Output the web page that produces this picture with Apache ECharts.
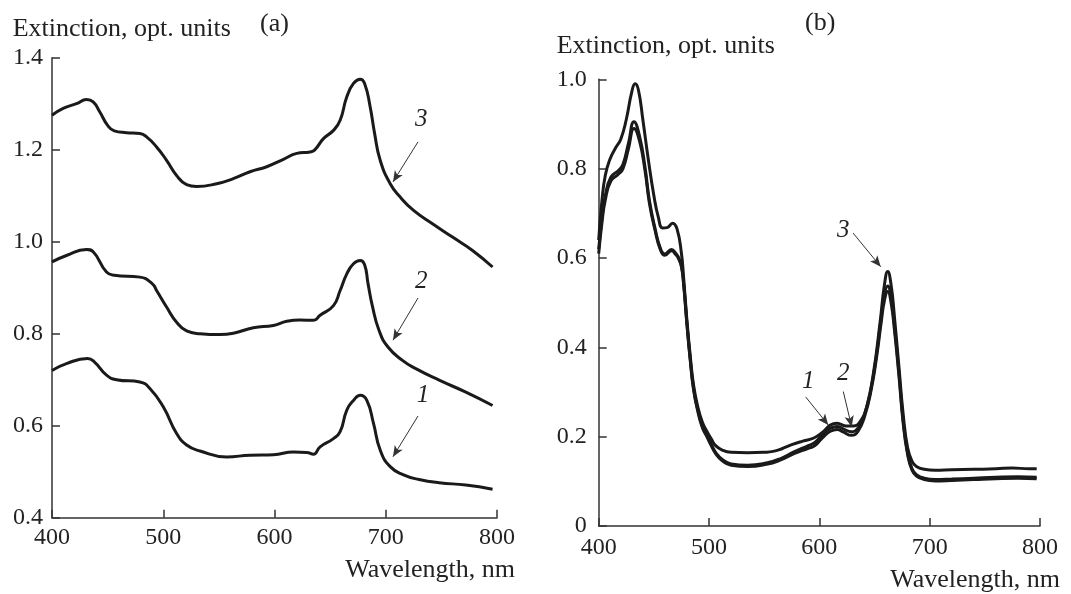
<!DOCTYPE html>
<html><head><meta charset="utf-8">
<script src="https://cdn.jsdelivr.net/npm/echarts@6/dist/echarts.min.js"></script>
<style>html,body{margin:0;padding:0;background:#fff}#c{width:1071px;height:594px}</style>
</head><body><div id="c"></div>
<script>
// ---- Panel (a) ----
const a3X = [400,410,422,431,437,443,450,456,467,479,485,494,503,512,521,530,548,563,578,593,608,620,632,636,644,653,659,665,671,677,681,686,690,695,704,713,725,742,760,778,796];
const a3Y = [1.275,1.29,1.3,1.309,1.304,1.282,1.253,1.241,1.237,1.235,1.228,1.206,1.177,1.144,1.124,1.12,1.126,1.137,1.152,1.163,1.179,1.192,1.195,1.199,1.224,1.242,1.264,1.315,1.344,1.353,1.344,1.293,1.235,1.177,1.126,1.097,1.068,1.039,1.01,0.981,0.945];
const a2X = [400,413,431,437,449,456,479,490,494,503,512,521,533,551,563,581,599,611,623,635,641,653,659,665,671,677,681,684,688,694,702,715,727,748,772,796];
const a2Y = [0.956,0.97,0.983,0.978,0.934,0.927,0.923,0.909,0.894,0.858,0.825,0.806,0.8,0.798,0.801,0.813,0.818,0.827,0.83,0.829,0.84,0.861,0.894,0.93,0.952,0.959,0.95,0.91,0.86,0.807,0.771,0.742,0.724,0.699,0.673,0.644];
const a1X = [400,413,432,438,449,458,479,488,500,512,521,533,557,578,599,617,629,635,641,653,659,665,671,677,683,689,695,704,716,730,748,772,796];
const a1Y = [0.72,0.735,0.746,0.739,0.71,0.7,0.695,0.681,0.641,0.583,0.558,0.545,0.532,0.536,0.537,0.543,0.542,0.538,0.554,0.572,0.587,0.634,0.655,0.666,0.655,0.605,0.547,0.511,0.493,0.483,0.476,0.471,0.462];
const aTicksY = [0.4,0.6,0.8,1.0,1.2,1.4];
const aNotes = ['3','2','1'];
const aNoteX = [732,732,733.5];
const aNoteY = [1.265,0.913,0.665];
const aArrowFrom = [[729,1.217],[729,0.8776],[729,0.621]];
const aArrowTo = [[706.5,1.13],[706.5,0.786],[706.5,0.5326]];

// ---- Panel (b) ----
const b3X = [400,403,406,410,415,420,425,430,433,436,440,445,450,454,458,462,467,471,475,477,480,483,486,490,494,498,502,506,512,520,535,550,558,566,575,585,595,603,610,616,624,631,637,643,649,655,659,662,665,668,672,676,680,684,688,695,705,720,740,760,775,790,797];
const b3Y = [0.64,0.73,0.785,0.82,0.845,0.866,0.91,0.972,0.99,0.976,0.91,0.82,0.74,0.692,0.667,0.668,0.678,0.665,0.61,0.555,0.46,0.38,0.315,0.265,0.232,0.212,0.195,0.18,0.17,0.165,0.164,0.165,0.167,0.173,0.182,0.19,0.197,0.21,0.226,0.23,0.224,0.224,0.234,0.268,0.342,0.455,0.54,0.57,0.54,0.47,0.36,0.25,0.175,0.145,0.133,0.127,0.125,0.126,0.127,0.128,0.13,0.128,0.128];
const b12X = [400,403,406,411,418,422,427,432,437,442,446,451,456,460,466,470,472,475,477,480,483,486,490,494,498,502,506,512,520,535,552,565,577,590,596,603,610,616,622,629,635,641,647,652,656,659,662,665,668,672,676,680,684,688,695,705,720,740,760,780,797];
const b1Y = [0.61,0.68,0.73,0.772,0.788,0.8,0.845,0.89,0.862,0.795,0.722,0.663,0.618,0.606,0.616,0.607,0.6,0.58,0.54,0.45,0.37,0.305,0.255,0.22,0.2,0.18,0.162,0.146,0.136,0.133,0.138,0.148,0.162,0.174,0.18,0.198,0.212,0.216,0.21,0.203,0.212,0.245,0.305,0.38,0.455,0.505,0.525,0.5,0.44,0.34,0.23,0.16,0.125,0.112,0.104,0.101,0.102,0.104,0.106,0.107,0.106];
const b2Y = [0.62,0.69,0.74,0.781,0.796,0.81,0.857,0.905,0.873,0.803,0.728,0.667,0.621,0.609,0.619,0.61,0.603,0.583,0.543,0.453,0.373,0.308,0.258,0.223,0.203,0.183,0.165,0.149,0.139,0.136,0.141,0.151,0.166,0.18,0.187,0.205,0.219,0.223,0.217,0.211,0.219,0.25,0.31,0.387,0.465,0.518,0.537,0.512,0.45,0.348,0.236,0.164,0.128,0.115,0.107,0.104,0.105,0.107,0.109,0.11,0.109];
const bTicksY = [0,0.2,0.4,0.6,0.8,1.0];
const bNotes = ['3','1','2'];
const bNoteX = [621.7,590,621.7];
const bNoteY = [0.6626,0.323,0.342];
const bArrowFrom = [[630.5,0.656],[587.6,0.289],[621.7,0.301]];
const bArrowTo = [[655.6,0.5805],[608.1,0.226],[629.3,0.222]];

const xTicks = [400,500,600,700,800];

const FONT = 'Liberation Serif';
const INK = '#1a1a1a';
const TITLE_FONT = '26px "Liberation Serif"';
const zip = (xs, ys) => xs.map((x, i) => [x, ys[i]]);

function xAxis(gi) {
  return {
    gridIndex: gi, type: 'value', min: xTicks[0], max: xTicks[xTicks.length - 1], interval: 100,
    axisLine: { show: true, lineStyle: { color: '#333', width: 1.5 } },
    axisTick: { show: true, inside: true, length: 8, lineStyle: { color: '#333', width: 1.5 } },
    axisLabel: { fontFamily: FONT, fontSize: 24, color: '#222', margin: gi === 0 ? 8 : 10 },
    splitLine: { show: false }
  };
}
function yAxis(gi, ticks) {
  return {
    gridIndex: gi, type: 'value', min: ticks[0], max: ticks[ticks.length - 1], interval: 0.2,
    axisLine: { show: true, lineStyle: { color: '#333', width: 1.5 } },
    axisTick: { show: true, inside: true, length: 8, lineStyle: { color: '#333', width: 1.5 } },
    axisLabel: { fontFamily: FONT, fontSize: 24, color: '#222', margin: gi === 0 ? 9 : 12,
      formatter: v => (Math.abs(v) < 1e-9 ? '0' : v.toFixed(1)) },
    splitLine: { show: false }
  };
}
function curve(gi, data, extra) {
  return Object.assign({
    type: 'line', xAxisIndex: gi, yAxisIndex: gi, data: data,
    showSymbol: false, symbol: 'none', smooth: 0.5,
    lineStyle: { color: INK, width: 3 }, animation: false, silent: true, z: 3
  }, extra || {});
}
function notes(labels, xs, ys, from, to) {
  return {
    markPoint: {
      silent: true, animation: false, symbol: 'rect', symbolSize: 1,
      itemStyle: { color: 'rgba(0,0,0,0)' },
      label: { show: true, position: 'inside', formatter: p => p.name,
        fontFamily: FONT, fontStyle: 'italic', fontSize: 25, color: '#222' },
      data: labels.map((t, i) => ({ name: t, coord: [xs[i], ys[i]] }))
    },
    markLine: {
      silent: true, animation: false, symbol: ['none', 'arrow'], symbolSize: [7, 11],
      label: { show: false },
      lineStyle: { color: '#333', width: 1, type: 'solid' },
      emphasis: { disabled: true },
      data: from.map((f, i) => [{ coord: f }, { coord: to[i] }])
    }
  };
}

const chart = echarts.init(document.getElementById('c'), null, { renderer: 'canvas' });
chart.setOption({
  backgroundColor: '#fff',
  animation: false,
  grid: [
    { left: 52, top: 57.7, width: 445, height: 460 },
    { left: 598.7, top: 79.3, width: 441.3, height: 446.7 }
  ],
  xAxis: [xAxis(0), xAxis(1)],
  yAxis: [yAxis(0, aTicksY), yAxis(1, bTicksY)],
  graphic: [
    { type: 'text', left: 12.7, top: 16, style: { text: 'Extinction, opt. units', font: TITLE_FONT, fill: '#222' } },
    { type: 'text', left: 260, top: 11, style: { text: '(a)', font: TITLE_FONT, fill: '#222' } },
    { type: 'text', right: 1071 - 515, top: 557, style: { text: 'Wavelength, nm', font: TITLE_FONT, fill: '#222' } },
    { type: 'text', left: 805, top: 10, style: { text: '(b)', font: TITLE_FONT, fill: '#222' } },
    { type: 'text', left: 556.7, top: 33, style: { text: 'Extinction, opt. units', font: TITLE_FONT, fill: '#222' } },
    { type: 'text', right: 11, top: 567, style: { text: 'Wavelength, nm', font: TITLE_FONT, fill: '#222' } }
  ],
  series: [
    curve(0, zip(a3X, a3Y), notes(aNotes, aNoteX, aNoteY, aArrowFrom, aArrowTo)),
    curve(0, zip(a2X, a2Y)),
    curve(0, zip(a1X, a1Y)),
    curve(1, zip(b3X, b3Y), notes(bNotes, bNoteX, bNoteY, bArrowFrom, bArrowTo)),
    curve(1, zip(b12X, b2Y)),
    curve(1, zip(b12X, b1Y))
  ]
});
</script>
</body></html>
